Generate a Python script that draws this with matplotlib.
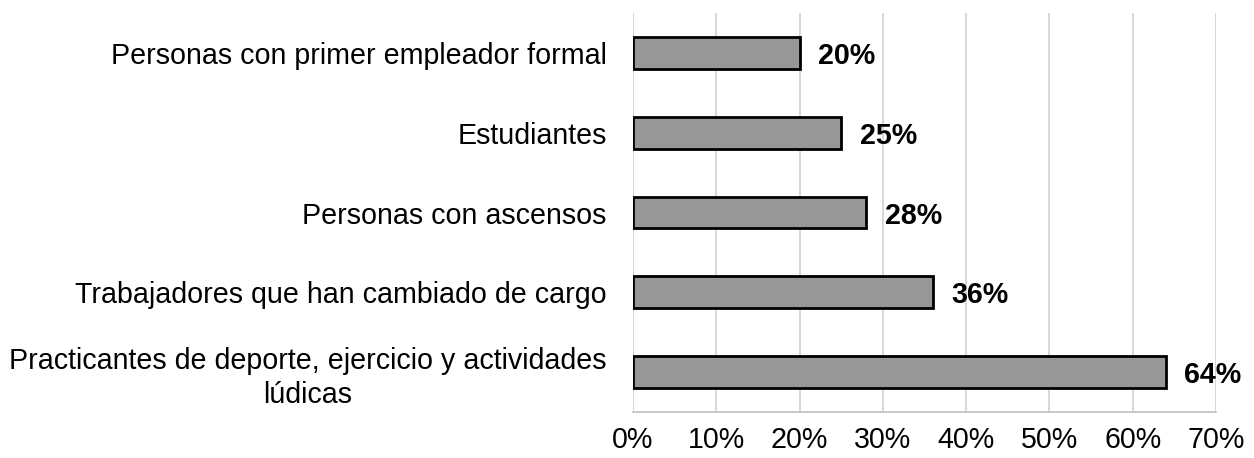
import matplotlib
matplotlib.use("Agg")
import matplotlib.pyplot as plt
from matplotlib.ticker import FuncFormatter

categories = [
    "Personas con primer empleador formal",
    "Estudiantes",
    "Personas con ascensos",
    "Trabajadores que han cambiado de cargo",
    "Practicantes de deporte, ejercicio y actividades\nlúdicas",
]
values = [20, 25, 28, 36, 64]
value_labels = ["20%", "25%", "28%", "36%", "64%"]
xticks = [0, 10, 20, 30, 40, 50, 60, 70]

plt.rcParams["font.family"] = ["Liberation Sans", "DejaVu Sans"]
FS = 20.6

fig = plt.figure(figsize=(12.54, 4.58), dpi=100)
ax = fig.add_axes([633 / 1254, 1 - 412 / 458, (1216 - 633) / 1254, (412 - 13) / 458])

y = list(range(len(categories)))
ax.barh(y, values, height=0.4, color="#979797", edgecolor="black", linewidth=2.0, zorder=3)

for yi, v, lab in zip(y, values, value_labels):
    ax.text(v + 2.2, yi + 0.04, lab, va="center", ha="left", fontsize=FS, fontweight="bold", color="black")

ax.set_xlim(0, 70)
ax.set_ylim(len(categories) - 0.5, -0.5)
ax.set_xticks(xticks)
ax.xaxis.set_major_formatter(FuncFormatter(lambda x, p: f"{int(round(x))}%"))
ax.set_yticks(y)
ax.set_yticklabels(categories, fontsize=FS, multialignment="center", linespacing=1.25)
ax.tick_params(axis="x", length=0, pad=10, labelsize=FS, colors="black")
ax.tick_params(axis="y", length=0, pad=19, colors="black")

ax.grid(axis="x", color="#cfcfcf", linewidth=1.2, zorder=0)
ax.grid(axis="y", visible=False)
for s in ["top", "right", "left"]:
    ax.spines[s].set_visible(False)
ax.spines["bottom"].set_color("#bfbfbf")
ax.spines["bottom"].set_linewidth(1.2)

fig.savefig("out.png", dpi=100, facecolor="white")
